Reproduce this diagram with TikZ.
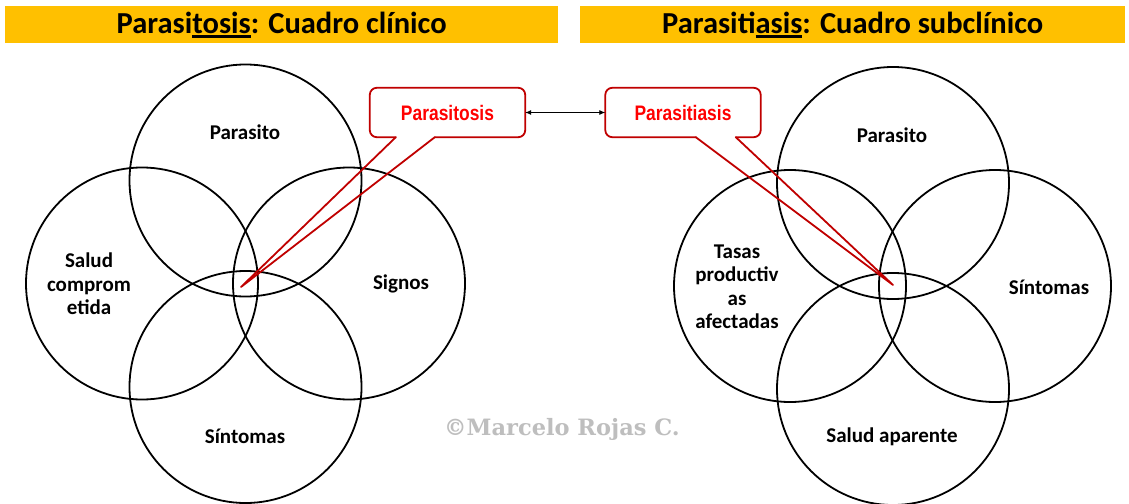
\documentclass[tikz,border=0pt]{standalone}
\usepackage{fontspec}
\setmainfont{Carlito}
\newfontfamily\callfont{Liberation Sans}[FakeStretch=0.83]
\newfontfamily\wmfont{DejaVu Serif}
\usetikzlibrary{arrows.meta}
\definecolor{titlebar}{HTML}{FFC000}
\definecolor{darkred}{HTML}{C00000}
\definecolor{brightred}{HTML}{FF0000}
\definecolor{wmgray}{RGB}{190,190,190}
\newsavebox\myulbox
\newcommand\myul[1]{\sbox\myulbox{#1}\rlap{\rule[-4.5pt]{\wd\myulbox}{2.2pt}}\usebox\myulbox}
\begin{document}
\begin{tikzpicture}[x=1pt,y=-1pt,
  venn/.style={circle,draw,line width=1.8pt,minimum size=232pt,inner sep=0pt},
  lbl/.style={font=\bfseries\fontsize{21}{23.5}\selectfont,align=center,inner sep=0pt},
  bar/.style={fill=titlebar,draw=none,minimum height=37pt,inner sep=0pt,font=\bfseries\fontsize{30.5}{34}\selectfont},
  co/.style={draw=darkred,line width=1.8pt,line cap=round,line join=round},
  cotext/.style={font=\callfont\bfseries\fontsize{21}{24}\selectfont,text=brightred,minimum width=155pt,minimum height=49pt,inner sep=0pt},
  >={Latex[length=6pt,width=5pt]}
]
\useasboundingbox[fill=white] (0,0) rectangle (1129,503);
% title bars
\node[bar,minimum width=553pt,anchor=north west] (barL) at (5,6) {Parasi\myul{tosis}: Cuadro clínico};
\node[bar,minimum width=545pt,anchor=north west] (barR) at (580,6) {Parasiti\myul{asis}: Cuadro subclínico};
% left Venn
\node[venn] (L1) at (245.5,180.5) {};
\node[venn] (L2) at (142,283.5) {};
\node[venn] (L3) at (349,283.5) {};
\node[venn] (L4) at (245.5,387) {};
\node[lbl] (tL1) at (245,132) {Parasito};
\node[lbl] (tL2) at (89,284) {Salud\\comprom\\etida};
\node[lbl] (tL3) at (401,284) {Signos};
\node[lbl] (tL4) at (245,436) {Síntomas};
% right Venn
\node[venn] (R1) at (893,183) {};
\node[venn] (R2) at (790,286) {};
\node[venn] (R3) at (995,286) {};
\node[venn] (R4) at (893,389) {};
\node[lbl] (tR1) at (892,135) {Parasito};
\node[lbl] (tR2) at (737,287) {Tasas\\productiv\\as\\afectadas};
\node[lbl] (tR3) at (1049,287) {Síntomas};
\node[lbl] (tR4) at (892,437) {Salud aparente};
% callouts
\node[cotext] (coL) at (447.5,112.5) {Parasitosis};
\node[cotext] (coR) at (683,112.5) {Parasitiasis};
\coordinate (tipL) at (241,287);
\coordinate (tipR) at (893,285);
\draw[co,rounded corners=7pt] ([xshift=26pt]coL.south west) -- (coL.south west) -- (coL.north west) -- (coL.north east) -- (coL.south east) -- ([xshift=65pt]coL.south west);
\draw[co] ([xshift=26pt]coL.south west) -- (tipL) -- ([xshift=65pt]coL.south west);
\draw[co,rounded corners=7pt] ([xshift=90.5pt]coR.south west) -- (coR.south west) -- (coR.north west) -- (coR.north east) -- (coR.south east) -- ([xshift=130.5pt]coR.south west);
\draw[co] ([xshift=90.5pt]coR.south west) -- (tipR) -- ([xshift=130.5pt]coR.south west);
\draw[<->,line width=0.8pt] (coL.east) -- (coR.west);
% watermark
\node[font=\wmfont\bfseries\fontsize{22.5}{26}\selectfont,text=wmgray,anchor=west,inner sep=0pt] (wm) at (444,429) {©Marcelo Rojas C.};
\end{tikzpicture}
\end{document}
